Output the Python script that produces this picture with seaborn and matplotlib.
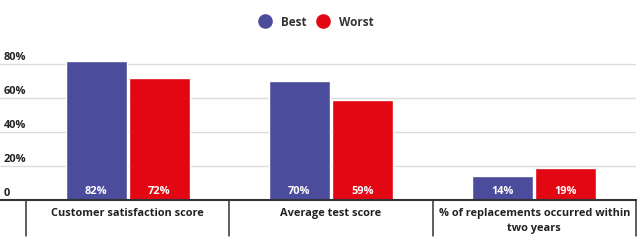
import matplotlib
matplotlib.use("Agg")
import matplotlib.pyplot as plt
import matplotlib.transforms as mtransforms
from matplotlib.lines import Line2D
import seaborn as sns
import pandas as pd

categories = ["Customer satisfaction score", "Average test score",
              "% of replacements occurred within\ntwo years"]
series = ["Best", "Worst"]
best_values = [82, 70, 14]
worst_values = [72, 59, 19]
y_ticks = [0, 20, 40, 60, 80]
y_tick_labels = ["0", "20%", "40%", "60%", "80%"]
colors = {"Best": "#4b4c9c", "Worst": "#e30613"}

df = pd.DataFrame({
    "category": categories * 2,
    "series": ["Best"] * 3 + ["Worst"] * 3,
    "value": best_values + worst_values,
})

sns.set_theme(style="white")
plt.rcParams["font.family"] = ["Open Sans", "DejaVu Sans"]

fig = plt.figure(figsize=(6.4, 2.4), dpi=100)
ax = fig.add_axes([0.0, 40 / 240, 636 / 640, 155 / 240])

sns.barplot(data=df, x="category", y="value", hue="series", order=categories,
            hue_order=series, palette=colors, width=0.62, gap=0.03,
            saturation=1, ax=ax, legend=False, errorbar=None)

ax.set_xlim(-0.5 - 26 / 203.3, 2.5)
ax.set_ylim(0, 91.5)
ax.set_xlabel("")
ax.set_ylabel("")

# grid and spines
ax.set_yticks(y_ticks)
ax.set_yticklabels(y_tick_labels)
ax.yaxis.grid(True, color="#dcdcdc", linewidth=1)
ax.set_axisbelow(True)
for s in ["left", "top", "right"]:
    ax.spines[s].set_visible(False)
ax.spines["bottom"].set_color("#333333")
ax.spines["bottom"].set_linewidth(1.5)

ax.tick_params(axis="y", length=0, pad=-2.5, labelsize=7.9, labelcolor="#222222")
offset = mtransforms.ScaledTranslation(0, 1.0 / 72, fig.dpi_scale_trans)
for lab in ax.get_yticklabels():
    lab.set_horizontalalignment("left")
    lab.set_verticalalignment("bottom")
    lab.set_fontweight("bold")
    lab.set_transform(lab.get_transform() + offset)

ax.tick_params(axis="x", length=0, pad=5.5, labelsize=7.9, labelcolor="#222222")
for lab in ax.get_xticklabels():
    lab.set_fontweight("bold")
    lab.set_verticalalignment("top")
    lab.set_linespacing(1.55)

# category separators
xt = ax.get_xaxis_transform()
for b in [-0.5, 0.5, 1.5, 2.5]:
    ax.plot([b, b], [0, -36 / 155], color="#333333", linewidth=1.1,
            transform=xt, clip_on=False)

# value labels inside bars
for cont, vals in zip(ax.containers, [best_values, worst_values]):
    for bar, v in zip(cont, vals):
        ax.annotate(f"{v}%", (bar.get_x() + bar.get_width() / 2, 0),
                    xytext=(0, 2.0), textcoords="offset points",
                    ha="center", va="bottom", color="white",
                    fontsize=7.9, fontweight="bold")

# legend
handles = [Line2D([], [], marker="o", linestyle="", markersize=9.5,
                  markerfacecolor=colors[s], markeredgecolor=colors[s])
           for s in series]
fig.legend(handles, series, loc="center", bbox_to_anchor=(0.49, 0.908),
           ncol=2, frameon=False, handletextpad=0.35, columnspacing=0.45,
           prop={"weight": "bold", "size": 8.5}, labelcolor="#333333")

fig.savefig("out.png", dpi=100)
